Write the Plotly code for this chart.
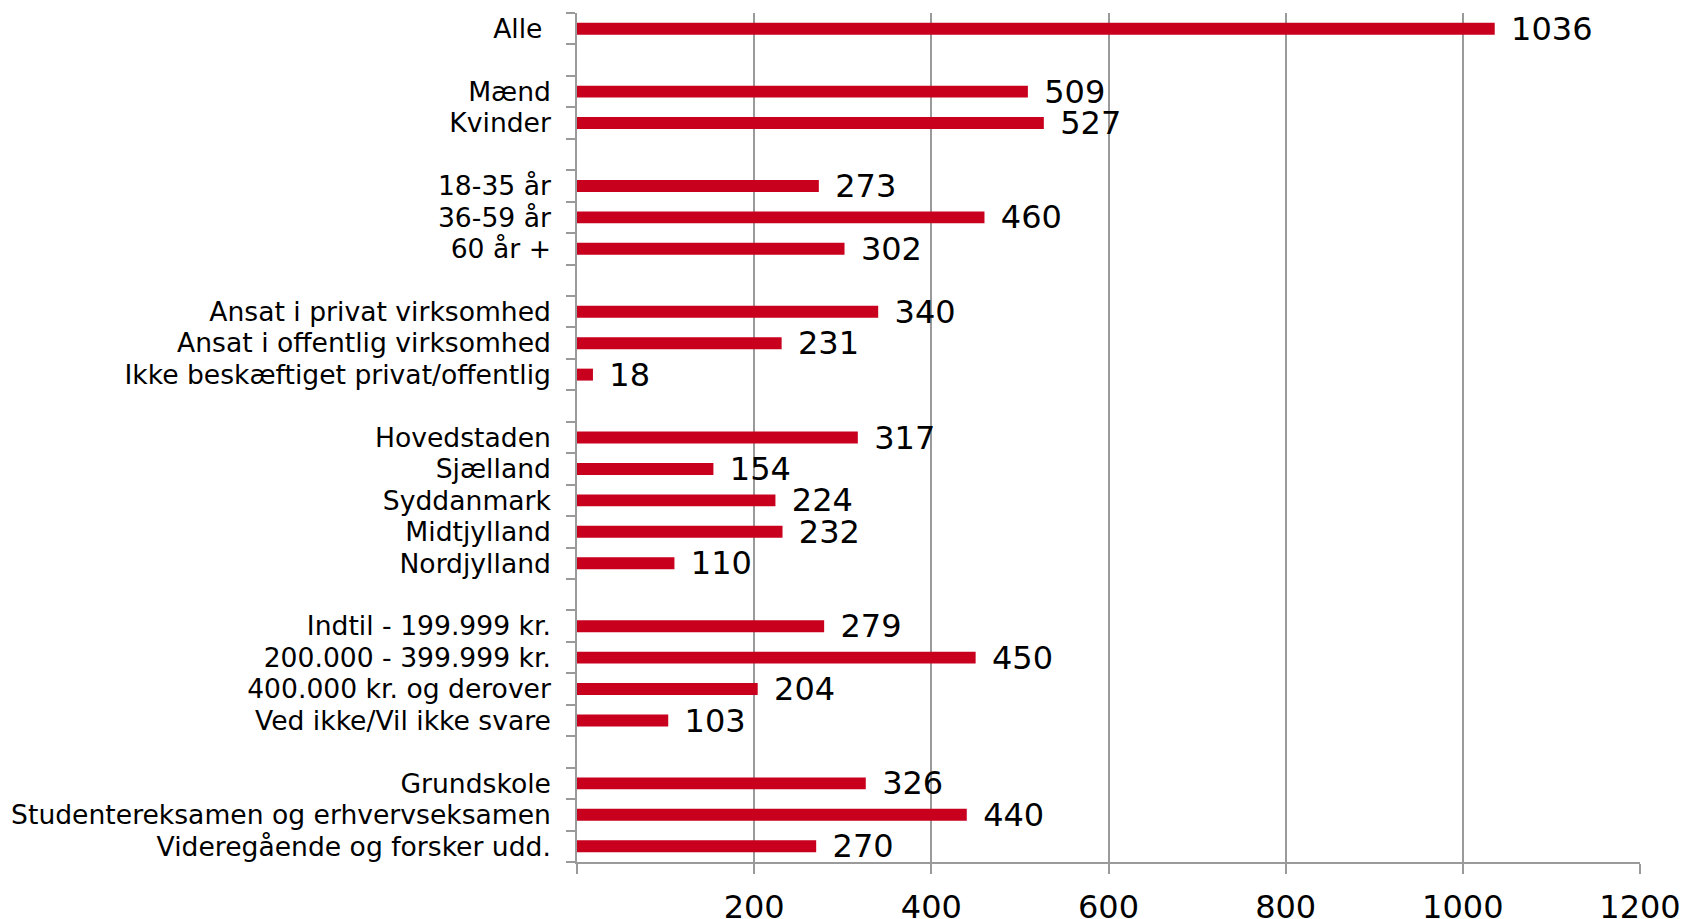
import plotly.graph_objects as go

categories = [
    "Alle\u00a0", " ",
    "Mænd", "Kvinder", "  ",
    "18-35 år", "36-59 år", "60 år +", "   ",
    "Ansat i privat virksomhed", "Ansat i offentlig virksomhed", "Ikke beskæftiget privat/offentlig", "    ",
    "Hovedstaden", "Sjælland", "Syddanmark", "Midtjylland", "Nordjylland", "     ",
    "Indtil - 199.999 kr.", "200.000 - 399.999 kr.", "400.000 kr. og derover", "Ved ikke/Vil ikke svare", "      ",
    "Grundskole", "Studentereksamen og erhvervseksamen", "Videregående og forsker udd.",
]
values = [
    1036, None,
    509, 527, None,
    273, 460, 302, None,
    340, 231, 18, None,
    317, 154, 224, 232, 110, None,
    279, 450, 204, 103, None,
    326, 440, 270,
]
x_ticks = [0, 200, 400, 600, 800, 1000, 1200]
x_ticktext = ["", "200", "400", "600", "800", "1000", "1200"]

labels = ["" if v is None else "\u00a0\u200a" + str(v) for v in values]

FONT = "DejaVu Sans, Verdana, sans-serif"
GRID = "#9a9a9a"

fig = go.Figure(go.Bar(
    x=values, y=categories, orientation="h",
    marker=dict(color="#C8001E", line=dict(width=0)),
    width=0.38,
    text=labels, textposition="outside", constraintext="none",
    textfont=dict(size=32, color="#000000", family=FONT),
    cliponaxis=False,
))

fig.update_layout(
    width=1686, height=919,
    margin=dict(l=577, r=46, t=13, b=57, autoexpand=False),
    plot_bgcolor="white", paper_bgcolor="white",
    showlegend=False,
    font=dict(family=FONT, color="#000000"),
)
fig.update_xaxes(
    range=[0, 1200], tickmode="array", tickvals=x_ticks, ticktext=x_ticktext,
    showgrid=True, gridcolor=GRID, gridwidth=1.5,
    showline=True, linecolor=GRID, linewidth=1.5,
    ticks="outside", ticklen=10, tickcolor=GRID, tickwidth=1.5,
    tickfont=dict(size=32, family=FONT, color="#000000"),
    ticklabelstandoff=6, automargin=False,
    zeroline=False, fixedrange=True,
)
fig.update_yaxes(
    type="category", autorange="reversed",
    categoryorder="array", categoryarray=categories,
    tickmode="array", tickvals=categories, ticktext=categories,
    showgrid=False, showline=True, linecolor=GRID, linewidth=1.5,
    ticks="outside", tickson="boundaries", ticklen=9, tickcolor=GRID, tickwidth=1.5,
    tickfont=dict(size=26.6, family=FONT, color="#000000"),
    ticklabelstandoff=19, automargin=False,
    zeroline=False, fixedrange=True,
)

fig.write_html(
    "out.html",
    config={"displayModeBar": False},
    post_script="document.body.style.margin='0px';document.body.style.overflow='hidden';",
)
